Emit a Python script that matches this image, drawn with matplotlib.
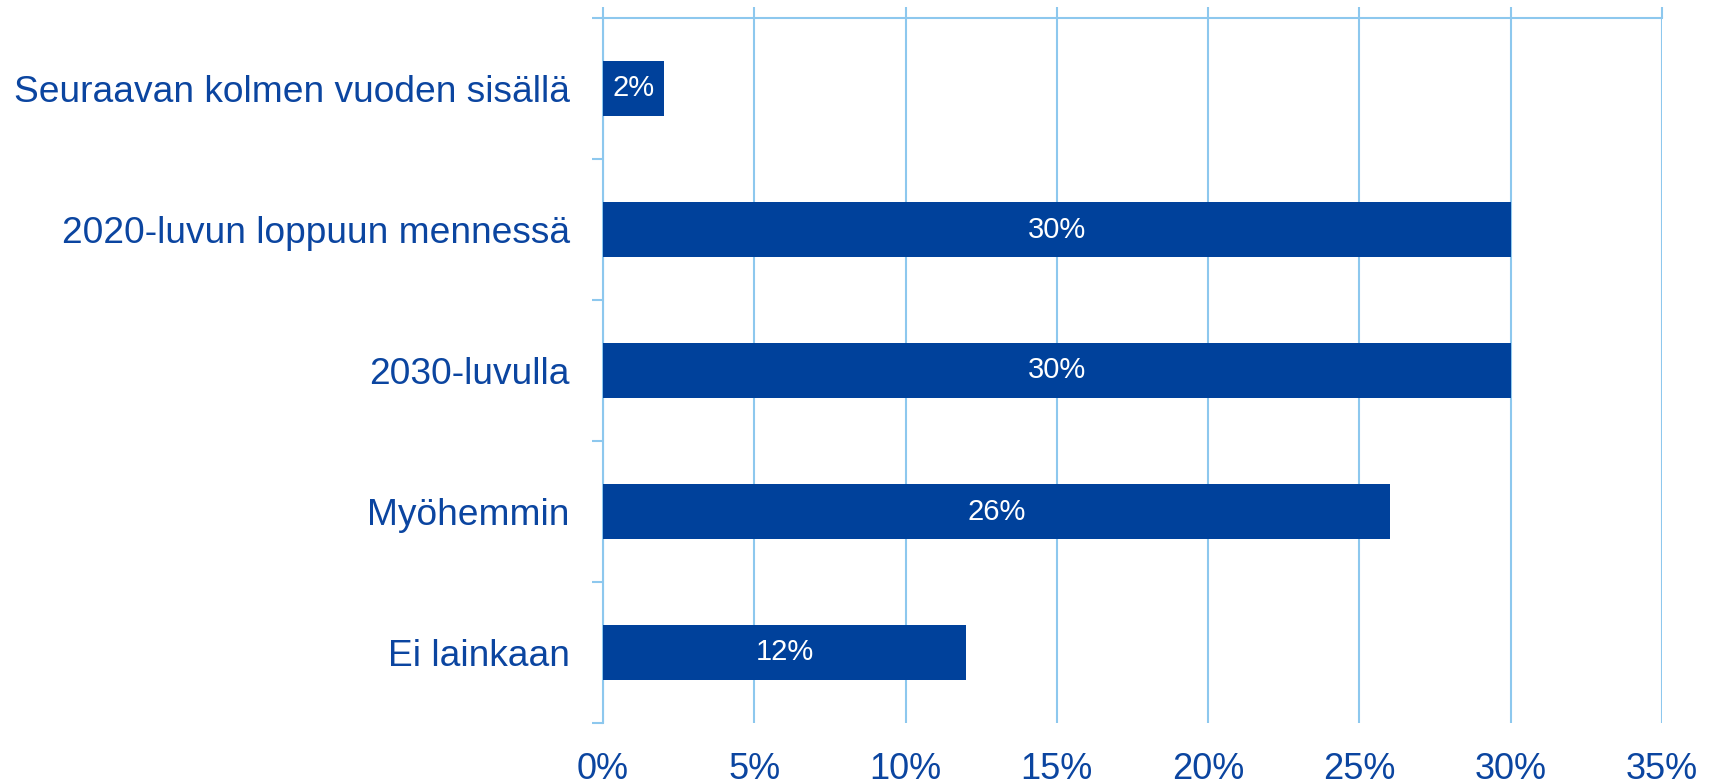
import matplotlib
matplotlib.use("Agg")
import matplotlib.pyplot as plt
from matplotlib.ticker import FuncFormatter

categories = ["Seuraavan kolmen vuoden sisällä", "2020-luvun loppuun mennessä",
              "2030-luvulla", "Myöhemmin", "Ei lainkaan"]
values = [2, 30, 30, 26, 12]
x_ticks = [0, 5, 10, 15, 20, 25, 30, 35]

bar_color = "#00419B"
text_color = "#0B45A0"
grid_color = "#8DC8EE"

plt.rcParams["font.family"] = ["Liberation Sans", "DejaVu Sans"]

fig = plt.figure(figsize=(17.14, 7.84), dpi=100)
ax = fig.add_axes([603 / 1714, 61 / 784, (1662 - 603) / 1714, (723 - 18) / 784])

y = list(range(len(categories)))
bars = ax.barh(y, values, height=0.39, color=bar_color, zorder=3)
for yi, v in zip(y, values):
    ax.text(v / 2, yi, f"{v}%", ha="center", va="center", color="white",
            fontsize=21, zorder=4)

ax.set_xlim(0, 35)
ax.set_ylim(len(categories) - 0.5, -0.5)
ax.set_xticks(x_ticks)
ax.xaxis.set_major_formatter(FuncFormatter(lambda v, p: f"{v:.0f}%"))
ax.grid(axis="x", color=grid_color, linewidth=1.5, zorder=0)

ax.set_yticks(y)
ax.set_yticklabels(categories)
ax.set_yticks([i - 0.5 for i in range(len(categories) + 1)], minor=True)

ax.tick_params(axis="x", bottom=False, top=True, labelbottom=True, labeltop=False,
               direction="out", length=8, width=1.5, color=grid_color,
               labelsize=26, labelcolor=text_color, pad=13)
ax.tick_params(axis="y", which="major", length=0, labelsize=26.7,
               labelcolor=text_color, pad=24)
ax.tick_params(axis="y", which="minor", length=8, width=1.5, color=grid_color, left=True)

for s in ["right", "bottom"]:
    ax.spines[s].set_visible(False)
for s in ["left", "top"]:
    ax.spines[s].set_color(grid_color)
    ax.spines[s].set_linewidth(1.5)

fig.savefig("out.png", dpi=100)
